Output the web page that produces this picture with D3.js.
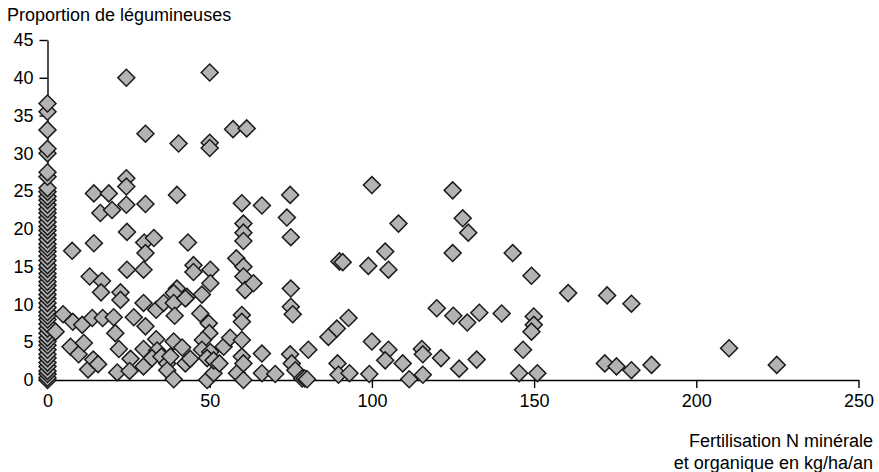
<!DOCTYPE html>
<html lang="fr">
<head>
    <meta charset="UTF-8">
    <title>Proportion de légumineuses</title>
    <style>
        body { margin: 0; background: #fff; }
        svg { display: block; font-family: "Liberation Sans", Arial, sans-serif; }
        .axis path, .axis line { stroke: #000; stroke-width: 1.4; }
        .axis text { font-size: 18px; fill: #000; }
    </style>
</head>
<body>
    <div id="chart"></div>

    <script src="https://d3js.org/d3.v7.min.js"></script>
    <script>
        // legume share of parcels without any N (x = 0)
        const zeroN = [0, 0.3, 0.8, 1.2, 1.8, 2.3, 2.9, 3.4, 4, 4.6, 5.1, 5.6, 6.2, 6.8, 7.4, 8, 8.5,
            9, 9.6, 10.2, 10.8, 11.3, 11.9, 12.5, 13, 13.6, 14.1, 14.7, 15.2, 15.8, 16.4, 17, 17.5,
            18, 18.6, 19.2, 19.8, 20.3, 20.9, 21.5, 22.1, 22.6, 23.2, 23.8, 24.3, 24.9, 25.4, 26.9,
            27.5, 30, 30.6, 33.1, 35.5, 36.6];

        // fertilised parcels: N input (kg/ha/an) and legume share
        const fertN = [
            24.3, 50, 30.2, 40.4, 50, 50, 57.2, 61.4,
            24.3, 24.3, 14.3, 18.9, 16.3, 19.9, 24.3, 30.2, 39.9, 24.5, 14.3, 7.6, 29.8, 32.8, 30.2, 43.3,
            24.5, 29.6, 45, 45, 50.2, 50.2, 47.6, 43, 39.9, 38.9, 13, 16.8,
            16.5, 22.5, 22.5, 29.6, 33.5, 35.8, 38.9, 39.2, 42.5,
            59.9, 66.1, 60.4, 60.4, 60.4, 58.2, 60.4, 60.4, 60.9, 63.5, 74.8, 73.8, 75, 75, 75, 75.6,
            4.8, 7.8, 10.7, 13.8, 17, 20.4, 26.6, 30.2, 20.9, 2.5, 47.1, 49.7, 49.9, 59.9, 59.9,
            7.1, 9.6, 11.2, 12.5, 14.1, 15.6, 22, 25.6, 21.5, 25.3, 29.6, 29.6, 33.5, 33.8, 32.2, 35.1,
            36.9, 36.9, 38.9, 37.9, 38.9, 41.5, 42.5, 44, 47.9, 47.6, 50.2, 49.2, 49.2, 51.2, 51.2, 53,
            54.3, 56.3, 58.4, 60.4, 59.9, 60.4, 59.9, 66.1, 66.1, 70.2, 74.8, 75.3, 76.4, 78.5, 79.3, 80,
            80.4, 86.6, 89.2, 92.8, 90, 91, 89.4, 89.7, 93.1,
            100, 124.9, 128, 129.7, 108.2, 104.1, 98.9, 105.1, 124.9, 143.4, 149.2, 160.5,
            120, 125.1, 129.4, 133.1, 140, 149.9, 149.9, 149.2, 100, 105.1, 104.1, 115.4, 115.7, 109.5,
            121.3, 132.3, 146.6, 99.2, 111.5, 115.7, 126.9, 145.4, 151,
            172.5, 180, 210.1, 171.8, 175.4, 180, 186.2, 224.8
        ];
        const legume = [
            40.0, 40.7, 32.6, 31.3, 31.4, 30.7, 33.2, 33.3,
            26.7, 25.6, 24.7, 24.7, 22.1, 22.5, 23.2, 23.3, 24.5, 19.6, 18.1, 17.1, 18.2, 18.8, 16.8, 18.2,
            14.6, 14.6, 15.2, 14.3, 14.6, 12.8, 11.3, 11.0, 12.1, 11.5, 13.7, 13.1,
            11.6, 11.6, 10.6, 10.2, 9.3, 10.2, 10.2, 8.5, 10.8,
            23.4, 23.1, 20.7, 19.5, 18.4, 16.1, 15.0, 13.7, 11.9, 12.8, 24.5, 21.5, 18.9, 12.1, 9.7, 8.7,
            8.7, 7.7, 7.3, 8.2, 8.2, 8.3, 8.3, 7.1, 6.2, 6.4, 8.8, 7.5, 6.2, 8.6, 7.7,
            4.4, 3.4, 4.9, 1.4, 2.7, 2.1, 4.1, 2.8, 1.0, 1.2, 1.8, 4.1, 5.4, 3.9, 2.9, 3.1,
            2.2, 1.3, 0.1, 3.1, 5.1, 4.3, 2.2, 2.8, 5.3, 4.0, 3.7, 2.9, 0, 0.9, 2.6, 2.2,
            4.4, 5.6, 0.9, 0, 3.1, 2.2, 5.3, 3.5, 0.9, 0.8, 3.4, 2.2, 1.3, 0.2, 0.2, 0.1,
            4.0, 5.7, 6.8, 8.2, 15.7, 15.6, 2.2, 0.7, 0.9,
            25.8, 25.1, 21.4, 19.5, 20.7, 17.0, 15.1, 14.6, 16.8, 16.8, 13.8, 11.5,
            9.5, 8.5, 7.6, 8.9, 8.8, 8.4, 7.3, 6.4, 5.1, 4.0, 2.6, 4.1, 3.4, 2.2,
            2.9, 2.7, 4.0, 0.8, 0.1, 0.7, 1.5, 0.9, 0.9,
            11.2, 10.1, 4.2, 2.2, 1.8, 1.3, 2.0, 2.0
        ];

        const xTicks = [0, 50, 100, 150, 200, 250];
        const yTicks = [0, 5, 10, 15, 20, 25, 30, 35, 40, 45];

        const width = 879;
        const height = 472;

        const points = zeroN.map(v => ({ n: 0, p: v }))
            .concat(fertN.map((n, i) => ({ n: n, p: legume[i] })));

        const svg = d3.select("#chart")
            .append("svg")
            .attr("width", width)
            .attr("height", height);

        const x = d3.scaleLinear().domain([0, 250]).range([47.5, 858.5]);
        const y = d3.scaleLinear().domain([0, 45]).range([380, 40]);

        // axes
        svg.append("g")
            .attr("class", "axis")
            .attr("transform", "translate(0,380)")
            .call(d3.axisBottom(x).tickValues(xTicks).tickSize(8).tickSizeOuter(0).tickPadding(6));

        svg.append("g")
            .attr("class", "axis")
            .attr("transform", "translate(47.5,0)")
            .call(d3.axisLeft(y).tickValues(yTicks).tickSize(8).tickSizeOuter(0).tickPadding(6));

        svg.selectAll(".axis .domain").attr("fill", "none");

        // titles
        svg.append("text")
            .attr("x", 7)
            .attr("y", 21)
            .attr("font-size", 18)
            .text("Proportion de légumineuses");

        svg.append("text")
            .attr("text-anchor", "end")
            .attr("font-size", 18)
            .selectAll("tspan")
            .data(["Fertilisation N minérale", "et organique en kg/ha/an"])
            .join("tspan")
            .attr("x", 873)
            .attr("y", (d, i) => 447 + i * 22)
            .text(d => d);

        // diamonds
        const diamond = d3.symbol(d3.symbolSquare, 144);
        svg.append("g")
            .selectAll("path")
            .data(points)
            .join("path")
            .attr("d", diamond)
            .attr("transform", d => `translate(${x(d.n)},${y(d.p)}) rotate(45)`)
            .attr("fill", "#b3b3b3")
            .attr("stroke", "#1a1a1a")
            .attr("stroke-width", 1.5);
    </script>
</body>
</html>
